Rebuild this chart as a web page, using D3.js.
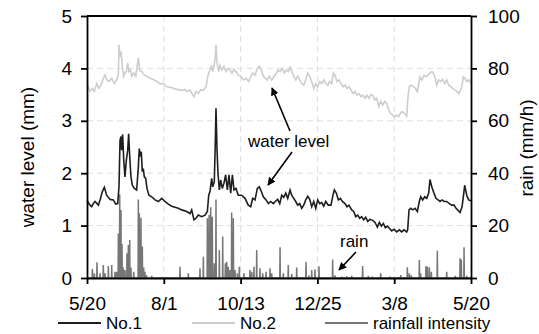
<!DOCTYPE html>
<html>
<head>
<meta charset="utf-8">
<script src="https://cdn.jsdelivr.net/npm/d3@7"></script>
<style>
  html, body { margin: 0; padding: 0; background: #fff; }
  svg { display: block; font-family: "Liberation Sans", Arial, sans-serif; }
</style>
</head>
<body>
<svg id="chart" width="539" height="334"></svg>
<script>
// Day offsets from 5/20 and the tick labels shown along the bottom
const xTickDays = [0, 73, 146, 219, 292, 365];
const xTickLabels = ["5/20", "8/1", "10/13", "12/25", "3/8", "5/20"];
const leftTicks = [0, 1, 2, 3, 4, 5];
const rightTicks = [0, 20, 40, 60, 80, 100];

// Water level at gauge No.1 (mm): [day, value]
const no1 = [
  [0,1.48],[2.5,1.40],[4.4,1.36],[6,1.42],[7.6,1.46],[10.8,1.39],[12.4,1.49],[14.6,1.65],[16.5,1.73],
  [18.7,1.58],[21.9,1.50],[25.0,1.49],[27.3,1.41],[29.2,1.42],[30.4,1.74],[31.4,2.63],[32.3,2.70],
  [32.9,2.44],[33.9,2.74],[34.9,2.25],[36.1,1.93],[37.4,2.25],[38.7,2.44],[39.6,2.75],[40.6,2.32],
  [41.8,1.93],[43.1,1.77],[45,1.71],[47.2,1.68],[48.8,2.12],[49.7,2.47],[50.7,2.32],[51.6,2.41],
  [52.6,2.03],[53.5,2.09],[54.5,1.93],[55.8,1.90],[57,1.71],[58.9,1.58],[61.5,1.55],[64.6,1.49],
  [67.8,1.46],[71,1.52],[74.1,1.46],[77.3,1.41],[80.5,1.37],[83.6,1.35],[86.8,1.33],[90,1.30],
  [94.7,1.27],[97.9,1.23],[99.5,1.30],[101.7,1.11],[103.6,1.14],[105.8,1.20],[109,1.17],[112.2,1.20],
  [114.4,1.27],[115.7,1.58],[116.9,1.65],[118.5,1.90],[119.5,1.74],[121,1.84],[122,2.63],[122.6,3.24],
  [123.6,2.44],[124.5,2.00],[125.8,1.68],[127.1,1.87],[128.6,1.71],[130.2,1.81],[131.8,1.97],
  [133.4,1.68],[135,1.97],[136.6,1.62],[138.2,1.97],[139.7,1.68],[141.6,1.71],[143.8,1.58],[147,1.58],
  [150.2,1.52],[153.3,1.39],[155.6,1.36],[157.5,1.52],[159.7,1.49],[161.9,1.71],[163.8,1.74],
  [165.7,1.65],[167.6,1.55],[170.2,1.49],[172.4,1.42],[174.6,1.46],[177.1,1.42],[179,1.46],[181.2,1.50],
  [183.2,1.42],[185.1,1.58],[187,1.54],[188.9,1.62],[190.8,1.52],[193,1.68],[194.6,1.58],[196.5,1.52],
  [198.4,1.46],[200.3,1.39],[202.2,1.42],[204.1,1.33],[206,1.39],[207.9,1.49],[209.8,1.56],[211.7,1.50],
  [213.6,1.36],[215.5,1.46],[217.4,1.33],[219.3,1.49],[221.2,1.42],[223.1,1.44],[225,1.37],[226.9,1.46],
  [229.4,1.39],[231.9,1.39],[233.8,1.58],[235.1,1.68],[237,1.62],[238.9,1.49],[240.8,1.52],[242.7,1.46],
  [245.2,1.42],[247.1,1.36],[249,1.39],[251.6,1.30],[253.5,1.27],[255.4,1.17],[257.3,1.20],[259.2,1.14],
  [261.1,1.17],[263,1.11],[264.9,1.16],[266.8,1.08],[269,1.12],[271.6,1.10],[273.8,1.06],[276,0.97],
  [277.9,1.06],[279.8,0.99],[281.7,1.04],[283.6,0.96],[285.5,0.99],[287.4,0.95],[289.6,0.90],[291.8,0.93],
  [294.4,0.88],[296.9,0.92],[299.1,0.88],[301.3,0.92],[303.9,0.88],[304.8,0.92],[306.1,1.30],[307.7,1.33],
  [309.6,1.30],[311.8,1.33],[314,1.27],[315.9,1.46],[317.2,1.55],[319.1,1.49],[321,1.55],[322.9,1.52],
  [324.8,1.62],[326,1.88],[327.7,1.74],[329.8,1.62],[331.7,1.52],[333.7,1.49],[335.6,1.46],[337.5,1.49],
  [339.4,1.46],[341.9,1.46],[344.4,1.42],[346.7,1.39],[348.9,1.39],[350.8,1.33],[352.7,1.29],[354.6,1.25],
  [356.5,1.36],[357.7,1.55],[359,1.77],[360.9,1.58],[362.8,1.49],[365,1.47]
];

// Water level at gauge No.2 (mm): [day, value]
const no2 = [
  [0,3.71],[2.9,3.56],[5.1,3.62],[7,3.56],[9.2,3.71],[11.4,3.62],[13.3,3.68],[15.5,3.81],[17.1,3.87],
  [19,3.78],[20.9,3.75],[23.5,3.81],[26,3.71],[28.2,3.78],[29.8,3.87],[30.4,4.45],[31.4,4.22],
  [32.3,4.32],[33.6,4.04],[34.9,3.85],[36.1,3.91],[37.4,3.94],[38.7,4.10],[39.9,3.94],[41.2,3.97],
  [42.5,3.85],[44.4,3.91],[46.3,3.85],[48.8,4.20],[50.1,3.97],[52,3.94],[54.5,3.87],[56.7,3.85],
  [59.9,3.81],[63,3.79],[66.3,3.75],[69.4,3.71],[72.5,3.71],[75.8,3.65],[78.9,3.64],[82,3.62],
  [85.3,3.60],[88.4,3.59],[91,3.58],[93.2,3.60],[95.4,3.56],[97.9,3.59],[99.8,3.52],[101.7,3.46],
  [103.6,3.56],[105.8,3.52],[108.1,3.59],[110.6,3.58],[113.1,3.65],[115,3.87],[116.9,3.97],[118.2,4.06],
  [119.5,3.94],[120.7,4.04],[122,4.22],[122.6,4.45],[123.6,4.10],[125.2,3.94],[126.4,4.06],[128.3,3.97],
  [130.2,4.04],[132.1,3.94],[134,4.00],[135.9,3.97],[137.8,3.91],[139.7,3.98],[141.6,3.94],[143.8,3.87],
  [146.1,3.85],[148.6,3.78],[151.1,3.81],[153.7,3.75],[155.6,3.85],[157.5,3.91],[159.7,3.87],
  [161.9,4.00],[163.8,4.04],[165.7,3.97],[167.6,3.85],[169.5,3.81],[171.4,3.78],[173.3,3.85],
  [175.6,3.78],[177.8,3.85],[180.3,3.91],[181.2,3.97],[183.5,3.94],[185.7,4.00],[187.6,3.91],
  [189.5,3.97],[191.4,3.94],[193,4.02],[194.6,3.94],[196.5,3.85],[198.4,3.78],[200.3,3.85],[202.2,3.78],
  [204.1,3.71],[206,3.68],[207.9,3.78],[209.8,3.91],[211.7,3.85],[213.6,3.75],[215.5,3.62],[217.4,3.71],
  [219.3,3.65],[221.2,3.75],[223.1,3.71],[225,3.78],[226.9,3.71],[228.8,3.68],[230.7,3.75],[232.6,3.71],
  [234.1,3.91],[235.7,3.87],[237.6,3.75],[239.5,3.78],[241.4,3.71],[243.3,3.65],[245.2,3.68],[247.1,3.62],
  [249,3.65],[250.9,3.59],[252.9,3.52],[254.8,3.56],[256.7,3.49],[258.6,3.52],[260.5,3.46],[262.4,3.49],
  [264.3,3.43],[266.2,3.49],[268.1,3.43],[269.8,3.50],[271.6,3.49],[273.5,3.40],[275.4,3.43],[277.3,3.27],
  [279.2,3.37],[281.1,3.30],[283,3.37],[284.9,3.33],[286.8,3.21],[288.7,3.14],[290.6,3.11],[292.5,3.07],
  [294.4,3.11],[296.3,3.08],[298.2,3.16],[300.1,3.17],[302,3.14],[303.9,3.09],[305.1,3.46],[306.4,3.66],
  [308.3,3.68],[310.2,3.65],[312.1,3.62],[314,3.56],[315.3,3.71],[316.5,3.84],[318.4,3.78],[320.3,3.87],
  [322.2,3.84],[324.1,3.87],[326,3.91],[327.9,3.94],[329.2,3.91],[331.1,3.81],[332.4,3.68],[334.3,3.78],
  [336.2,3.75],[338.1,3.79],[340,3.71],[341.9,3.78],[343.8,3.68],[345.7,3.65],[347.6,3.62],[349.5,3.59],
  [351.4,3.56],[353.3,3.52],[355.2,3.59],[356.5,3.68],[357.7,3.84],[359.3,3.81],[360.9,3.75],
  [362.8,3.78],[365,3.71]
];

// Rainfall intensity events (mm/h): [day, value]
const rain = [
  [5.1,3.5],[7,1.8],[9.5,6],[12.4,1.8],[15.5,5],[17.1,1.8],[20.3,4.6],[23.5,5],[26.6,2.4],[28.2,2.4],
  [29.8,17],[31.1,32],[32.3,26],[33.3,13],[34.5,4],[36.1,3],[38,9.4],[39.3,12.6],[40.6,14.5],[41.8,4],
  [44.4,2.4],[48.8,30],[49.7,24.7],[51.3,23],[52.6,12],[53.9,4],[55.1,2.4],[56.7,1],[61.5,0.8],
  [88.4,4.3],[96.3,1.8],[107.4,3.7],[110.6,8.1],[114.4,22.8],[116,24],[117.6,27],[119.1,23.4],
  [121,5.6],[122.6,30],[125.8,10.7],[129,15.8],[131.5,5.6],[132.8,6.2],[134.3,4.3],[135.9,3],
  [137.5,25],[139.1,22.8],[140.7,3],[142.9,1.8],[144.8,4.3],[149.2,1.8],[154.9,3],[156.6,2.4],
  [158.7,4.3],[161.3,10.7],[164.4,3.7],[167,1.8],[170.2,2.4],[174,3.7],[175.6,1.8],[183.5,11.7],
  [186.6,1.8],[191.3,5],[194.6,1.5],[199.3,4],[208.2,6.2],[211,1],[213.6,3],[216.7,3.3],[220.5,4.5],
  [233.5,7.1],[235.7,1],[242.1,0.5],[246.9,0.6],[251.6,0.8],[262,4.6],[267.4,0.8],[271.2,0.5],
  [279.2,1.8],[288,0.5],[298.2,1.1],[304.5,4.1],[306.4,1.8],[308.3,1],[315.9,6.9],[317.2,1.8],
  [322.2,4.6],[323.5,4.3],[325.4,4.1],[327.3,2.4],[333,10.4],[341.9,2.4],[350.1,0.8],[354.6,7.5],
  [355.8,7.1],[358.4,11.7],[360.9,0.8]
];

const svg = d3.select("#chart");
const plotLeft = 87, plotRight = 471, plotTop = 16, plotBottom = 278;
const FONT = "19px";

const x = d3.scaleLinear().domain([0, 365]).range([plotLeft, plotRight]);
const yL = d3.scaleLinear().domain([0, 5]).range([plotBottom, plotTop]);
const yR = d3.scaleLinear().domain([0, 100]).range([plotBottom, plotTop]);

// dashed grid
const grid = svg.append("g").attr("stroke", "#dedede").attr("stroke-width", 1).attr("stroke-dasharray", "6,4");
grid.selectAll("line.h").data(leftTicks.slice(1, -1)).join("line").attr("class", "h")
  .attr("x1", plotLeft).attr("x2", plotRight).attr("y1", d => yL(d)).attr("y2", d => yL(d));
grid.selectAll("line.v").data(xTickDays.slice(1, -1)).join("line").attr("class", "v")
  .attr("y1", plotTop).attr("y2", plotBottom).attr("x1", d => x(d)).attr("x2", d => x(d));

// rainfall as thin spikes rising from the zero line
const spikeHalf = 0.25;
const rainPts = [[0, 0]];
rain.forEach(([d, v]) => { rainPts.push([d - spikeHalf, 0], [d, v], [d + spikeHalf, 0]); });
rainPts.push([365, 0]);
svg.append("path").datum(rainPts)
  .attr("fill", "none").attr("stroke", "#767676").attr("stroke-width", 1.5).attr("stroke-linejoin", "miter")
  .attr("d", d3.line().x(d => x(d[0])).y(d => yR(d[1])));

const lineL = d3.line().x(d => x(d[0])).y(d => yL(d[1]));
svg.append("path").datum(no2)
  .attr("fill", "none").attr("stroke", "#cdcdcd").attr("stroke-width", 1.6).attr("d", lineL);
svg.append("path").datum(no1)
  .attr("fill", "none").attr("stroke", "#1e1e1e").attr("stroke-width", 1.6).attr("d", lineL);

// axes
function styleAxis(g) {
  g.select(".domain").attr("stroke", "#000").attr("stroke-width", 1.8);
  g.selectAll(".tick line").attr("stroke", "#000").attr("stroke-width", 1.8);
  g.selectAll(".tick text").attr("fill", "#000").style("font-size", FONT)
    .style("font-family", "'Liberation Sans', Arial, sans-serif");
}
svg.append("g").attr("transform", `translate(${plotLeft},0)`)
  .call(d3.axisLeft(yL).tickValues(leftTicks).tickSize(6).tickSizeOuter(0).tickPadding(9).tickFormat(d3.format("d")))
  .call(styleAxis);
svg.append("g").attr("transform", `translate(${plotRight},0)`)
  .call(d3.axisRight(yR).tickValues(rightTicks).tickSize(6).tickSizeOuter(0).tickPadding(11).tickFormat(d3.format("d")))
  .call(styleAxis);
svg.append("g").attr("transform", `translate(0,${plotBottom})`)
  .call(d3.axisBottom(x).tickValues(xTickDays).tickSize(6).tickSizeOuter(0).tickPadding(13)
    .tickFormat((d, i) => xTickLabels[i]))
  .call(styleAxis);
svg.append("line").attr("x1", plotLeft).attr("x2", plotRight).attr("y1", plotTop).attr("y2", plotTop)
  .attr("stroke", "#000").attr("stroke-width", 1.8);

// axis titles
svg.append("text").attr("transform", "translate(34,157) rotate(-90)")
  .attr("text-anchor", "middle").style("font-size", FONT).text("water level (mm)");
svg.append("text").attr("transform", "translate(533,148) rotate(-90)")
  .attr("text-anchor", "middle").style("font-size", FONT).text("rain (mm/h)");

// annotations
const defs = svg.append("defs");
defs.append("marker").attr("id", "arrow").attr("viewBox", "0 0 10 10")
  .attr("refX", 9).attr("refY", 5).attr("markerWidth", 5).attr("markerHeight", 5)
  .attr("orient", "auto").attr("markerUnits", "strokeWidth")
  .append("path").attr("d", "M0,0 L10,5 L0,10 z").attr("fill", "#000");

svg.append("text").attr("x", 248).attr("y", 147).style("font-size", "17px").text("water level");
svg.append("text").attr("x", 340).attr("y", 247).style("font-size", "17px").text("rain");
const arrows = [
  [290, 131, 272, 88],
  [292, 152, 268, 185],
  [356, 252, 339, 270]
];
svg.selectAll("line.arrow").data(arrows).join("line").attr("class", "arrow")
  .attr("x1", d => d[0]).attr("y1", d => d[1]).attr("x2", d => d[2]).attr("y2", d => d[3])
  .attr("stroke", "#000").attr("stroke-width", 1.6).attr("marker-end", "url(#arrow)");

// legend
const legend = [
  { label: "No.1", color: "#1e1e1e", x: 58 },
  { label: "No.2", color: "#cdcdcd", x: 192 },
  { label: "rainfall intensity", color: "#767676", x: 325 }
];
const lg = svg.append("g");
lg.selectAll("line").data(legend).join("line")
  .attr("x1", d => d.x).attr("x2", d => d.x + 43).attr("y1", 323).attr("y2", 323)
  .attr("stroke", d => d.color).attr("stroke-width", 1.8);
lg.selectAll("text").data(legend).join("text")
  .attr("x", d => d.x + 48).attr("y", 329).style("font-size", "17px").text(d => d.label);
</script>
</body>
</html>
